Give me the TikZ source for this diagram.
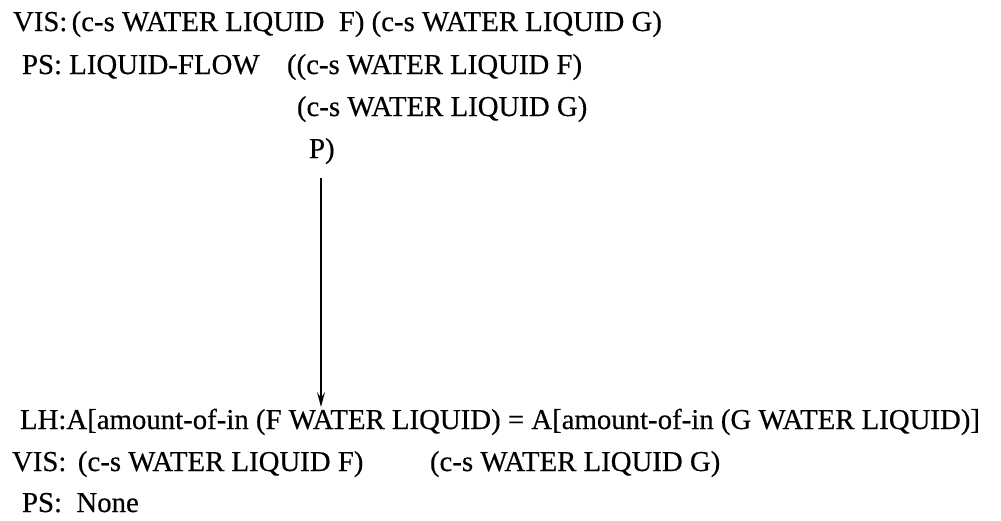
\documentclass[tikz,border=0pt]{standalone}
\usepackage{fontspec}
\setmainfont{Liberation Serif}
\newfontfamily\scanfont[FakeBold=0.4]{Liberation Serif}
\usetikzlibrary{arrows.meta}
\begin{document}
\begin{tikzpicture}[x=1pt,y=-1pt,
  txt/.style={anchor=base west,inner sep=0pt,outer sep=0pt,font=\scanfont\fontsize{28.8}{32}\selectfont},
  flow/.style={line width=1.4pt,-{Stealth[length=15pt,width=8pt,inset=6pt]}}]
\useasboundingbox[fill=white] (0,0) rectangle (1001,520);
\node[txt] (l1) at (13,31) {VIS:\hspace{0.15em}(c-s WATER LIQUID\ \ F) (c-s WATER LIQUID G)};
\node[txt] (l2a) at (22,74) {PS: LIQUID-FLOW};
\node[txt] (l2b) at (287,74) {((c-s WATER LIQUID F)};
\node[txt] (l3) at (297,116) {(c-s WATER LIQUID G)};
\node[txt] (l4) at (309,158) {P)};
\node[txt] (l5) at (20,429) {LH:A[amount-of-in (F WATER LIQUID) = A[amount-of-in (G WATER LIQUID)]};
\node[txt] (l6a) at (12,471) {VIS:\hspace{0.4em}(c-s WATER LIQUID F)};
\node[txt] (l6b) at (430,471) {(c-s WATER LIQUID G)};
\node[txt] (l7) at (22,512) {PS:\ \ None};
\coordinate (top) at (321,178);
\coordinate (bot) at (321,407);
\draw[flow] (top) -- (bot);
\end{tikzpicture}
\end{document}
